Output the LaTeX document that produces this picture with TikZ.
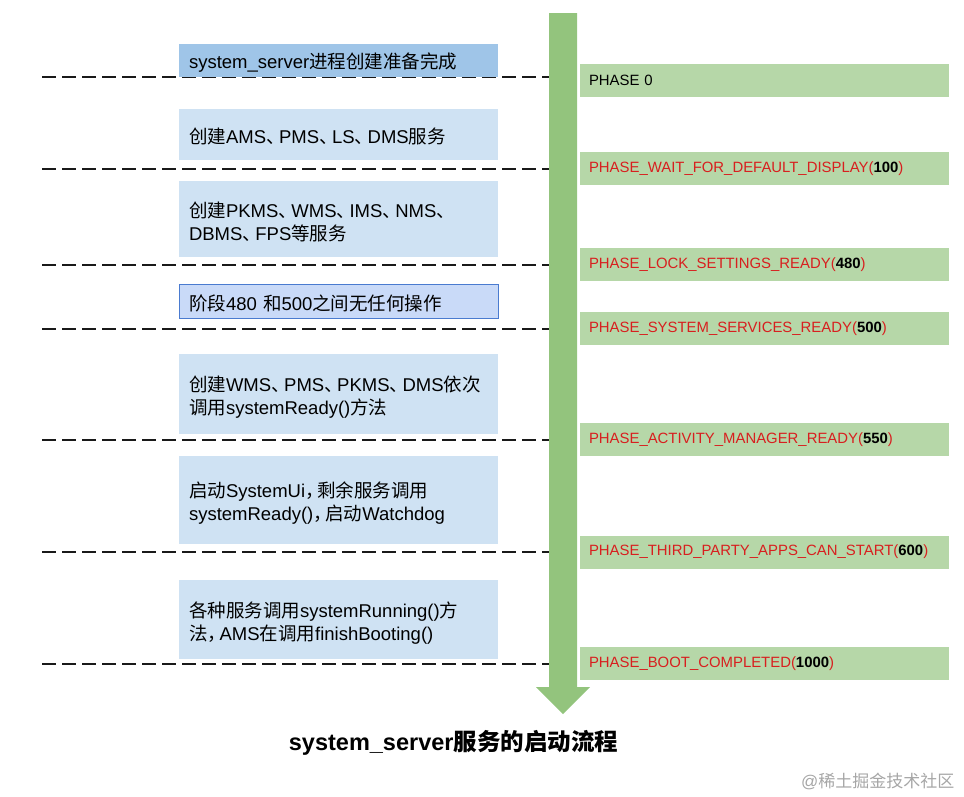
\documentclass[tikz,border=0pt]{standalone}
\usepackage{fontspec}
\setmainfont{Liberation Sans}
\newfontfamily\cjk{Noto Sans CJK SC}
\newcommand{\C}[1]{{\cjk #1}}
\newcommand{\dn}{{\cjk 、}\kern-0.3em}
\newcommand{\cm}{{\cjk ，}\kern-0.35em}
\newcommand{\lowr}[1]{\raisebox{-2pt}[\height][\depth]{#1}}
\newcommand{\topstrut}{\rule{0pt}{22pt}}
\definecolor{arrowgreen}{HTML}{93C47D}
\definecolor{phasegreen}{HTML}{B6D7A8}
\definecolor{blueA}{HTML}{9FC5E8}
\definecolor{blueB}{HTML}{CFE2F3}
\definecolor{blueC}{HTML}{C9DAF8}
\definecolor{blueborder}{HTML}{4A7BD0}
\definecolor{phasered}{HTML}{D81F1F}
\begin{document}
\begin{tikzpicture}[x=1pt,y=-1pt,
  stagebox/.style={fill=blueB, draw=none, minimum width=319pt, text width=299pt, align=left, inner xsep=10pt, inner ysep=0pt, font=\fontsize{18.5}{23}\selectfont},
  phasebox/.style={fill=phasegreen, draw=none, minimum width=369pt, minimum height=33pt, text width=351pt, align=left, inner xsep=9pt, inner ysep=0pt, font=\fontsize{14.9}{17}\selectfont, text=phasered},
  sepline/.style={line width=2pt, draw=black!90, dash pattern=on 14pt off 6pt}
]
\useasboundingbox (0,0) rectangle (964,796);

% phase boxes
\node[phasebox] (P0) at (764.5,80.5) {\textcolor{black}{PHASE 0}};
\node[phasebox] (P1) at (764.5,168.5) {PHASE\_WAIT\_FOR\_DEFAULT\_DISPLAY(\textcolor{black}{\textbf{100}})};
\node[phasebox] (P2) at (764.5,264.5) {PHASE\_LOCK\_SETTINGS\_READY(\textcolor{black}{\textbf{480}})};
\node[phasebox] (P3) at (764.5,328.5) {PHASE\_SYSTEM\_SERVICES\_READY(\textcolor{black}{\textbf{500}})};
\node[phasebox] (P4) at (764.5,439.5) {PHASE\_ACTIVITY\_MANAGER\_READY(\textcolor{black}{\textbf{550}})};
\node[phasebox] (P5) at (764.5,552) {PHASE\_THIRD\_PARTY\_APPS\_CAN\_START(\textcolor{black}{\textbf{600}})};
\node[phasebox] (P6) at (764.5,663.5) {PHASE\_BOOT\_COMPLETED(\textcolor{black}{\textbf{1000}})};

% dashed separators
\coordinate (L0) at (42,77);
\coordinate (L1) at (42,169);
\coordinate (L2) at (42,265);
\coordinate (L3) at (42,329);
\coordinate (L4) at (42,440);
\coordinate (L5) at (42,552);
\coordinate (L6) at (42,664);
\draw[sepline] (L0) -- (L0 -| P0.west);
\draw[sepline] (L1) -- (L1 -| P1.west);
\draw[sepline] (L2) -- (L2 -| P2.west);
\draw[sepline] (L3) -- (L3 -| P3.west);
\draw[sepline] (L4) -- (L4 -| P4.west);
\draw[sepline] (L5) -- (L5 -| P5.west);
\draw[sepline] (L6) -- (L6 -| P6.west);

% big arrow
\coordinate (A1) at (549,13);
\coordinate (A2) at (577,13);
\coordinate (A3) at (577,687);
\coordinate (A4) at (590,687);
\coordinate (AT) at (563,714);
\coordinate (A5) at (536,687);
\coordinate (A6) at (549,687);
\fill[arrowgreen] (A1) -- (A2) -- (A3) -- (A4) -- (AT) -- (A5) -- (A6) -- cycle;

% stage boxes
\node[stagebox, fill=blueA, minimum height=33pt] (S0) at (338.5,60.5) {\lowr{system\_server\C{进程创建准备完成}}};
\node[stagebox, minimum height=51pt] (S1) at (338.5,134.5) {\lowr{\C{创建}AMS\dn PMS\dn LS\dn DMS\C{服务}}};
\node[stagebox, minimum height=76pt] (S2) at (338.5,219) {\topstrut\C{创建}PKMS\dn WMS\dn IMS\dn NMS\dn\\DBMS\dn FPS\C{等服务}};
\node[stagebox, fill=blueC, draw=blueborder, line width=0.8pt, minimum height=34pt] (S3) at (338.5,301) {\lowr{\C{阶段}480 \C{和}500\C{之间无任何操作}}};
\node[stagebox, minimum height=80pt] (S4) at (338.5,394) {\topstrut\C{创建}WMS\dn PMS\dn PKMS\dn DMS\C{依次}\\\C{调用}systemReady()\C{方法}};
\node[stagebox, minimum height=88pt] (S5) at (338.5,500) {\topstrut\C{启动}SystemUi\cm\C{剩余服务调用}\\systemReady()\cm\C{启动}Watchdog};
\node[stagebox, minimum height=79pt] (S6) at (338.5,619.5) {\topstrut\C{各种服务调用}systemRunning()\C{方}\\\C{法}\cm AMS\C{在调用}finishBooting()};

% title
\node[font=\fontsize{23.5}{28}\selectfont\bfseries] (title) at (453.5,743) {system\_server\C{服务的启动流程}};

% watermark
\node[font=\fontsize{17}{20}\selectfont, text=black!35, anchor=east] (wm) at (958,781) {@\C{稀土掘金技术社区}};
\end{tikzpicture}
\end{document}
